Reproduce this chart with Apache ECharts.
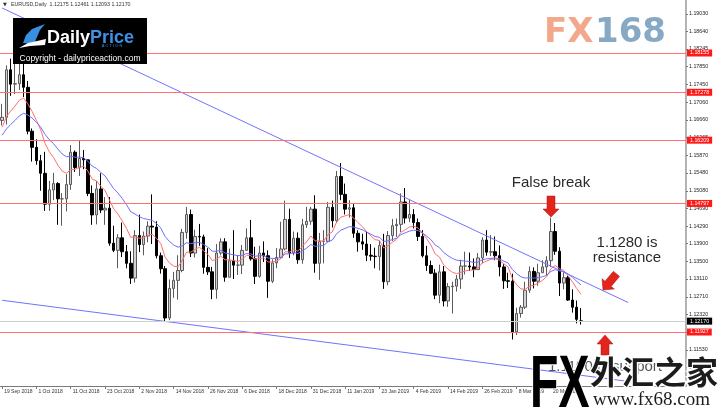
<!DOCTYPE html>
<html><head><meta charset="utf-8">
<script src="https://cdn.jsdelivr.net/npm/echarts@6/dist/echarts.min.js"></script>
<style>html,body{margin:0;padding:0;background:#fff}#c{width:720px;height:412px}</style>
</head><body><div id="c"></div>
<script>
const dates = [
'19 Sep 2018','20 Sep 2018','21 Sep 2018','24 Sep 2018','25 Sep 2018','26 Sep 2018','27 Sep 2018','28 Sep 2018',
'1 Oct 2018','2 Oct 2018','3 Oct 2018','4 Oct 2018','5 Oct 2018','8 Oct 2018','9 Oct 2018','10 Oct 2018',
'11 Oct 2018','12 Oct 2018','15 Oct 2018','16 Oct 2018','17 Oct 2018','18 Oct 2018','19 Oct 2018','22 Oct 2018',
'23 Oct 2018','24 Oct 2018','25 Oct 2018','26 Oct 2018','29 Oct 2018','30 Oct 2018','31 Oct 2018','1 Nov 2018',
'2 Nov 2018','5 Nov 2018','6 Nov 2018','7 Nov 2018','8 Nov 2018','9 Nov 2018','12 Nov 2018','13 Nov 2018',
'14 Nov 2018','15 Nov 2018','16 Nov 2018','19 Nov 2018','20 Nov 2018','21 Nov 2018','22 Nov 2018','23 Nov 2018',
'26 Nov 2018','27 Nov 2018','28 Nov 2018','29 Nov 2018','30 Nov 2018','3 Dec 2018','4 Dec 2018','5 Dec 2018',
'6 Dec 2018','7 Dec 2018','10 Dec 2018','11 Dec 2018','12 Dec 2018','13 Dec 2018','14 Dec 2018','17 Dec 2018',
'18 Dec 2018','19 Dec 2018','20 Dec 2018','21 Dec 2018','24 Dec 2018','26 Dec 2018','27 Dec 2018','28 Dec 2018',
'31 Dec 2018','2 Jan 2019','3 Jan 2019','4 Jan 2019','7 Jan 2019','8 Jan 2019','9 Jan 2019','10 Jan 2019',
'11 Jan 2019','14 Jan 2019','15 Jan 2019','16 Jan 2019','17 Jan 2019','18 Jan 2019','21 Jan 2019','22 Jan 2019',
'23 Jan 2019','24 Jan 2019','25 Jan 2019','28 Jan 2019','29 Jan 2019','30 Jan 2019','31 Jan 2019','1 Feb 2019',
'4 Feb 2019','5 Feb 2019','6 Feb 2019','7 Feb 2019','8 Feb 2019','11 Feb 2019','12 Feb 2019','13 Feb 2019',
'14 Feb 2019','15 Feb 2019','18 Feb 2019','19 Feb 2019','20 Feb 2019','21 Feb 2019','22 Feb 2019','25 Feb 2019',
'26 Feb 2019','27 Feb 2019','28 Feb 2019','1 Mar 2019','4 Mar 2019','5 Mar 2019','6 Mar 2019','7 Mar 2019',
'8 Mar 2019','11 Mar 2019','12 Mar 2019','13 Mar 2019','14 Mar 2019','15 Mar 2019','18 Mar 2019','19 Mar 2019',
'20 Mar 2019','21 Mar 2019','22 Mar 2019','25 Mar 2019','26 Mar 2019','27 Mar 2019','28 Mar 2019','29 Mar 2019',
'1 Apr 2019','2 Apr 2019','3 Apr 2019','4 Apr 2019','5 Apr 2019','8 Apr 2019','9 Apr 2019','10 Apr 2019',
'11 Apr 2019','12 Apr 2019','15 Apr 2019','16 Apr 2019','17 Apr 2019','18 Apr 2019','19 Apr 2019','22 Apr 2019',
'23 Apr 2019','24 Apr 2019','25 Apr 2019','26 Apr 2019','29 Apr 2019','30 Apr 2019','1 May 2019','2 May 2019'
];
const opens = [
1.1665,1.1672,1.1778,1.1746,1.1747,1.1767,1.1739,1.1641,
1.1605,1.1575,1.1547,1.1478,1.1510,1.1524,1.1490,1.1490,
1.1522,1.1594,1.1560,1.1580,1.1577,1.1502,1.1454,1.1512,
1.1465,1.1469,1.1391,1.1375,1.1403,1.1372,1.1346,1.1313,
1.1408,1.1388,1.1407,1.1429,1.1427,1.1363,1.1334,1.1224,
1.1290,1.1308,1.1330,1.1415,1.1455,1.1369,1.1406,1.1405,
1.1337,1.1327,1.1288,1.1369,1.1394,1.1315,1.1352,1.1342,
1.1342,1.1375,1.1403,1.1356,1.1317,1.1369,1.1363,1.1306,
1.1347,1.1359,1.1378,1.1444,1.1369,1.1402,1.1354,1.1432,
1.1440,1.1467,1.1346,1.1395,1.1395,1.1471,1.1441,1.1540,
1.1500,1.1467,1.1470,1.1413,1.1394,1.1389,1.1364,1.1362,
1.1361,1.1386,1.1305,1.1408,1.1430,1.1433,1.1483,1.1447,
1.1455,1.1437,1.1406,1.1363,1.1341,1.1324,1.1275,1.1327,
1.1262,1.1294,1.1295,1.1311,1.1340,1.1340,1.1338,1.1332,
1.1358,1.1398,1.1371,1.1372,1.1363,1.1338,1.1307,1.1306,
1.1193,1.1234,1.1248,1.1286,1.1328,1.1306,1.1325,1.1338,
1.1352,1.1417,1.1373,1.1302,1.1314,1.1264,1.1248,1.12175
];
const closes = [
1.1672,1.1778,1.1746,1.1747,1.1767,1.1739,1.1641,1.1605,
1.1575,1.1547,1.1478,1.1510,1.1524,1.1490,1.1490,1.1522,
1.1594,1.1560,1.1580,1.1577,1.1502,1.1454,1.1512,1.1465,
1.1469,1.1391,1.1375,1.1403,1.1372,1.1346,1.1313,1.1408,
1.1388,1.1407,1.1429,1.1427,1.1363,1.1334,1.1224,1.1290,
1.1308,1.1330,1.1415,1.1455,1.1369,1.1406,1.1405,1.1337,
1.1327,1.1288,1.1369,1.1394,1.1315,1.1352,1.1342,1.1342,
1.1375,1.1403,1.1356,1.1317,1.1369,1.1363,1.1306,1.1347,
1.1359,1.1378,1.1444,1.1369,1.1402,1.1354,1.1432,1.1440,
1.1467,1.1346,1.1395,1.1395,1.1471,1.1441,1.1540,1.1500,
1.1467,1.1470,1.1413,1.1394,1.1389,1.1364,1.1362,1.1361,
1.1386,1.1305,1.1408,1.1430,1.1433,1.1483,1.1447,1.1455,
1.1437,1.1406,1.1363,1.1341,1.1324,1.1275,1.1327,1.1262,
1.1294,1.1295,1.1311,1.1340,1.1340,1.1338,1.1332,1.1358,
1.1398,1.1371,1.1372,1.1363,1.1338,1.1307,1.1306,1.1193,
1.1234,1.1248,1.1286,1.1328,1.1306,1.1325,1.1338,1.1352,
1.1417,1.1373,1.1302,1.1314,1.1264,1.1248,1.1221,1.12170
];
const lows = [
1.1654,1.1656,1.1720,1.1724,1.1733,1.1717,1.1634,1.1573,
1.1566,1.1508,1.1463,1.1463,1.1487,1.1432,1.1430,1.1462,
1.1510,1.1550,1.1541,1.1556,1.1496,1.1432,1.1433,1.1458,
1.1432,1.1385,1.1371,1.1335,1.1360,1.1335,1.1300,1.1303,
1.1371,1.1364,1.1393,1.1389,1.1357,1.1323,1.1216,1.1219,
1.1269,1.1265,1.1326,1.1401,1.1360,1.1359,1.1385,1.1323,
1.1320,1.1266,1.1267,1.1364,1.1305,1.1315,1.1311,1.1320,
1.1322,1.1374,1.1352,1.1300,1.1314,1.1349,1.1269,1.1302,
1.1335,1.1357,1.1375,1.1358,1.1364,1.1345,1.1345,1.1425,
1.1432,1.1325,1.1309,1.1346,1.1394,1.1426,1.1436,1.1487,
1.1455,1.1448,1.1403,1.1372,1.1376,1.1351,1.1352,1.1335,
1.1330,1.1289,1.1297,1.1396,1.1405,1.1416,1.1435,1.1438,
1.1424,1.1396,1.1359,1.1329,1.1322,1.1266,1.1257,1.1250,
1.1249,1.1234,1.1283,1.1289,1.1321,1.1329,1.1315,1.1332,
1.1346,1.1363,1.1362,1.1353,1.1317,1.1289,1.1291,1.1176,
1.1186,1.1225,1.1244,1.1280,1.1290,1.1296,1.1325,1.1320,
1.1338,1.1365,1.1273,1.1288,1.1262,1.1236,1.1212,1.12093
];
const highs = [
1.1702,1.1788,1.1803,1.1815,1.1795,1.1792,1.1753,1.1647,
1.1623,1.1588,1.1595,1.1530,1.1548,1.1527,1.1503,1.1545,
1.1610,1.1598,1.1621,1.1599,1.1575,1.1520,1.1530,1.1547,
1.1494,1.1494,1.1430,1.1411,1.1437,1.1387,1.1373,1.1420,
1.1455,1.1417,1.1440,1.1500,1.1440,1.1370,1.1340,1.1310,
1.1327,1.1364,1.1423,1.1472,1.1466,1.1421,1.1434,1.1410,
1.1380,1.1338,1.1389,1.1402,1.1402,1.1379,1.1420,1.1364,
1.1387,1.1424,1.1443,1.1383,1.1385,1.1395,1.1375,1.1355,
1.1380,1.1439,1.1486,1.1468,1.1417,1.1415,1.1445,1.1472,
1.1472,1.1498,1.1414,1.1420,1.1483,1.1486,1.1552,1.1570,
1.1524,1.1487,1.1480,1.1420,1.1412,1.1417,1.1389,1.1381,
1.1397,1.1412,1.1418,1.1445,1.1446,1.1502,1.1514,1.1488,
1.1467,1.1446,1.1420,1.1385,1.1352,1.1333,1.1343,1.1340,
1.1302,1.1305,1.1320,1.1354,1.1372,1.1370,1.1357,1.1369,
1.1404,1.1420,1.1409,1.1406,1.1386,1.1344,1.1325,1.1323,
1.1247,1.1253,1.1305,1.1339,1.1337,1.1345,1.1353,1.1362,
1.1448,1.1436,1.1382,1.1326,1.1318,1.1288,1.1263,1.12461
];
const maRed = [
1.1650,1.1673,1.1686,1.1697,1.1710,1.1715,1.1702,1.1685,1.1665,1.1644,
1.1614,1.1595,1.1582,1.1565,1.1552,1.1547,1.1555,1.1556,1.1560,1.1563,
1.1552,1.1534,1.1530,1.1518,1.1509,1.1488,1.1468,1.1456,1.1441,1.1424,
1.1404,1.1405,1.1402,1.1403,1.1408,1.1411,1.1402,1.1390,1.1360,1.1347,
1.1340,1.1338,1.1352,1.1371,1.1371,1.1377,1.1382,1.1374,1.1366,1.1352,
1.1355,1.1362,1.1354,1.1354,1.1352,1.1350,1.1355,1.1364,1.1363,1.1355,
1.1357,1.1358,1.1349,1.1349,1.1351,1.1356,1.1372,1.1371,1.1377,1.1373,
1.1384,1.1394,1.1407,1.1396,1.1396,1.1396,1.1410,1.1416,1.1438,1.1449,
1.1452,1.1455,1.1447,1.1437,1.1428,1.1417,1.1407,1.1399,1.1397,1.1380,
1.1385,1.1393,1.1400,1.1415,1.1421,1.1427,1.1429,1.1425,1.1414,1.1401,
1.1387,1.1367,1.1360,1.1342,1.1333,1.1326,1.1323,1.1326,1.1329,1.1331,
1.1331,1.1336,1.1347,1.1351,1.1355,1.1356,1.1353,1.1345,1.1338,1.1312,
1.1298,1.1289,1.1288,1.1295,1.1297,1.1302,1.1308,1.1316,1.1334,1.1341,
1.1334,1.1330,1.1318,1.1305,1.1290,1.1277
];
const maBlue = [
1.1632,1.1646,1.1656,1.1665,1.1675,1.1681,1.1677,1.1670,1.1661,1.1650,
1.1634,1.1622,1.1613,1.1601,1.1590,1.1584,1.1585,1.1583,1.1583,1.1582,
1.1574,1.1563,1.1558,1.1549,1.1541,1.1527,1.1513,1.1503,1.1491,1.1477,
1.1461,1.1456,1.1450,1.1446,1.1444,1.1442,1.1435,1.1425,1.1406,1.1395,
1.1387,1.1382,1.1385,1.1392,1.1390,1.1392,1.1393,1.1388,1.1382,1.1373,
1.1373,1.1375,1.1369,1.1367,1.1365,1.1363,1.1364,1.1368,1.1367,1.1362,
1.1363,1.1363,1.1358,1.1357,1.1357,1.1359,1.1367,1.1367,1.1370,1.1368,
1.1374,1.1380,1.1388,1.1384,1.1385,1.1386,1.1394,1.1398,1.1412,1.1420,
1.1424,1.1428,1.1427,1.1424,1.1421,1.1416,1.1411,1.1406,1.1404,1.1395,
1.1396,1.1399,1.1402,1.1410,1.1414,1.1418,1.1420,1.1419,1.1414,1.1407,
1.1399,1.1387,1.1381,1.1370,1.1363,1.1357,1.1353,1.1352,1.1351,1.1350,
1.1348,1.1349,1.1354,1.1356,1.1357,1.1358,1.1356,1.1351,1.1347,1.1332,
1.1323,1.1316,1.1313,1.1314,1.1313,1.1314,1.1316,1.1319,1.1328,1.1332,
1.1329,1.1328,1.1322,1.1315,1.1306,1.1298
];
const yTicks = [1.19030,1.18640,1.18245,1.17850,1.17450,1.17060,1.16660,1.16265,1.15870,1.15480,1.15080,
1.14690,1.14290,1.13900,1.13500,1.13110,1.12710,1.12320,1.11925,1.11530,1.11135];
const redLevels = [1.18155,1.17278,1.16209,1.14797,1.11927];
const bidLevel = 1.12170;
const upperTrend = [[0,1.19159],[146,1.12586]];
const lowerTrend = [[0,1.12635],[147,1.10812]];
const yMin = 1.10722, yMax = 1.19338;

const FONT = 'Liberation Sans';
const chart = echarts.init(document.getElementById('c'), null, {renderer:'canvas'});
const candles = closes.map((c,i)=>[opens[i], c, lows[i], highs[i]]);
const showTick = (i) => i % 8 === 0 && i < closes.length;
const lvlLabel = (bg) => ({show:true, position:'end', distance:1, color:'#fff', backgroundColor:bg,
  fontSize:5.3, fontFamily:FONT, padding:[1,3,1,3], formatter:(p)=>Number(p.value).toFixed(5)});
const markData = redLevels.map(v=>({yAxis:v, lineStyle:{color:'#ff7272',width:1,type:'solid'}, label:lvlLabel('#ff1a1a')}));
markData.push({yAxis:bidLevel, lineStyle:{color:'#cfcfcf',width:1,type:'solid'}, label:lvlLabel('#000')});

const red = '#e3241c';
const option = {
  animation:false,
  backgroundColor:'#fff',
  grid:{left:0,right:34,top:0,bottom:26},
  xAxis:{type:'category', data:dates, boundaryGap:true,
    axisLine:{lineStyle:{color:'#7a7a7a',width:1}},
    axisTick:{show:true, alignWithLabel:true, interval:(i)=>showTick(i), length:3, lineStyle:{color:'#7a7a7a'}},
    axisLabel:{interval:(i)=>showTick(i), fontSize:5, color:'#333', align:'left', margin:3, padding:[0,0,0,2], fontFamily:FONT},
    splitLine:{show:false}},
  yAxis:{type:'value', position:'right', min:yMin, max:yMax, scale:true,
    axisLine:{show:true, lineStyle:{color:'#9a9a9a', width:1.5}},
    axisTick:{show:true, customValues:yTicks, length:2, lineStyle:{color:'#777'}},
    axisLabel:{customValues:yTicks, formatter:(v)=>v.toFixed(5), fontSize:5.3, color:'#222', margin:3, fontFamily:FONT},
    splitLine:{show:false}},
  series:[
    {type:'candlestick', data:candles, barWidth:3,
      itemStyle:{color:'#d2d2d2', color0:'#000', borderColor:'#5a5a5a', borderColor0:'#000', borderWidth:1},
      markLine:{silent:true, symbol:['none','none'], precision:5, animation:false, data:markData}},
    {type:'line', data:maRed, showSymbol:false, symbol:'none', lineStyle:{color:'#ff6f6f', width:1}, z:3},
    {type:'line', data:maBlue, showSymbol:false, symbol:'none', lineStyle:{color:'#6f6fff', width:1}, z:3},
    {type:'line', data:upperTrend, showSymbol:false, symbol:'none', lineStyle:{color:'#7272ff', width:1}, z:3},
    {type:'line', data:lowerTrend, showSymbol:false, symbol:'none', lineStyle:{color:'#7272ff', width:1}, z:3}
  ],
  graphic:[
    {type:'text', x:3, y:5, z:100, style:{text:'▼', fontSize:5, fill:'#333', verticalAlign:'middle', fontFamily:'DejaVu Sans'}},
    {type:'text', x:11, y:5, z:100, style:{text:'EURUSD,Daily  1.12175 1.12461 1.12093 1.12170', fontSize:5.3, fill:'#333', verticalAlign:'middle', fontFamily:FONT}},
    {type:'rect', z:100, shape:{x:13,y:18,width:134,height:46}, style:{fill:'#000'}},
    {type:'polygon', z:101, shape:{points:[[23,43],[26,35],[32,29],[45,24],[40,30],[37,37],[34,44]]}, style:{fill:'#3a8ee0'}},
    {type:'polygon', z:101, shape:{points:[[19,48],[28,43],[46,39],[45,45],[30,46]]}, style:{fill:'#fff'}},
    {type:'text', x:47, y:38.5, z:101, style:{text:'Daily', fontSize:18, fontWeight:'bold', fill:'#fff', verticalAlign:'middle', fontFamily:FONT}},
    {type:'text', x:90, y:38.5, z:101, style:{text:'Price', fontSize:18, fontWeight:'bold', fill:'#3d91e6', verticalAlign:'middle', fontFamily:FONT}},
    {type:'text', x:112, y:46, z:101, style:{text:'A C T I O N', fontSize:4, fill:'#3d91e6', align:'center', verticalAlign:'middle', fontFamily:FONT}},
    {type:'text', x:80, y:58.5, z:101, style:{text:'Copyright - dailypriceaction.com', fontSize:8.5, fill:'#fff', align:'center', verticalAlign:'middle', fontFamily:FONT}},
    {type:'text', x:544, y:33, z:100, style:{text:'FX', fontSize:34, fontWeight:'bold', fill:'#f3a88b', verticalAlign:'middle', fontFamily:'DejaVu Sans'}},
    {type:'text', x:595, y:33, z:100, style:{text:'168', fontSize:34, fontWeight:'bold', fill:'#88a9c3', verticalAlign:'middle', fontFamily:'DejaVu Sans'}},
    {type:'text', x:551, y:183, z:100, style:{text:'False break', fontSize:15, fill:'#2a2a2a', align:'center', verticalAlign:'middle', fontFamily:FONT}},
    {type:'text', x:627, y:243, z:100, style:{text:'1.1280 is', fontSize:15, fill:'#2a2a2a', align:'center', verticalAlign:'middle', fontFamily:FONT}},
    {type:'text', x:627, y:258, z:100, style:{text:'resistance', fontSize:15, fill:'#2a2a2a', align:'center', verticalAlign:'middle', fontFamily:FONT}},
    {type:'text', x:605, y:367, z:100, style:{text:'1.1190 is support', fontSize:15, fill:'#555', align:'center', verticalAlign:'middle', fontFamily:FONT}},
    {type:'polygon', z:100, shape:{points:[[547,196],[555,196],[555,209],[559,209],[551,217],[543,209],[547,209]]}, style:{fill:red, stroke:'#b01010', lineWidth:0.5}},
    {type:'polygon', z:100, shape:{points:[[619.5,276.4],[611.2,286.4],[614.3,289.0],[603,290],[602.0,278.7],[605.0,281.3],[613.4,271.3]]}, style:{fill:red, stroke:'#b01010', lineWidth:0.5}},
    {type:'polygon', z:100, shape:{points:[[605,335],[613,344],[609,344],[609,355],[601,355],[601,344],[597,344]]}, style:{fill:red, stroke:'#b01010', lineWidth:0.5}},
    {type:'text', x:530, y:386, z:110, scaleX:0.62, style:{text:'FX', fontSize:75, fontWeight:'bold', verticalAlign:'middle', fontFamily:FONT,
      fill:new echarts.graphic.LinearGradient(0,0,0,1,[{offset:0,color:'#8ec4f4'},{offset:1,color:'#2c5fb5'}]), stroke:'#fff', lineWidth:2}},
    {type:'text', x:590, y:372, z:110, style:{text:'外汇之家', fontSize:32, fontWeight:'bold', fill:'#1c1c1c', stroke:'#fff', lineWidth:3, verticalAlign:'middle', fontFamily:'Noto Sans CJK SC'}},
    {type:'text', x:593, y:400, z:110, style:{text:'www.fx68.com', fontSize:19, fill:'#1c1c1c', stroke:'#fff', lineWidth:2, verticalAlign:'middle', fontFamily:'Liberation Serif'}}
  ]
};
chart.setOption(option);
</script>
</body></html>
